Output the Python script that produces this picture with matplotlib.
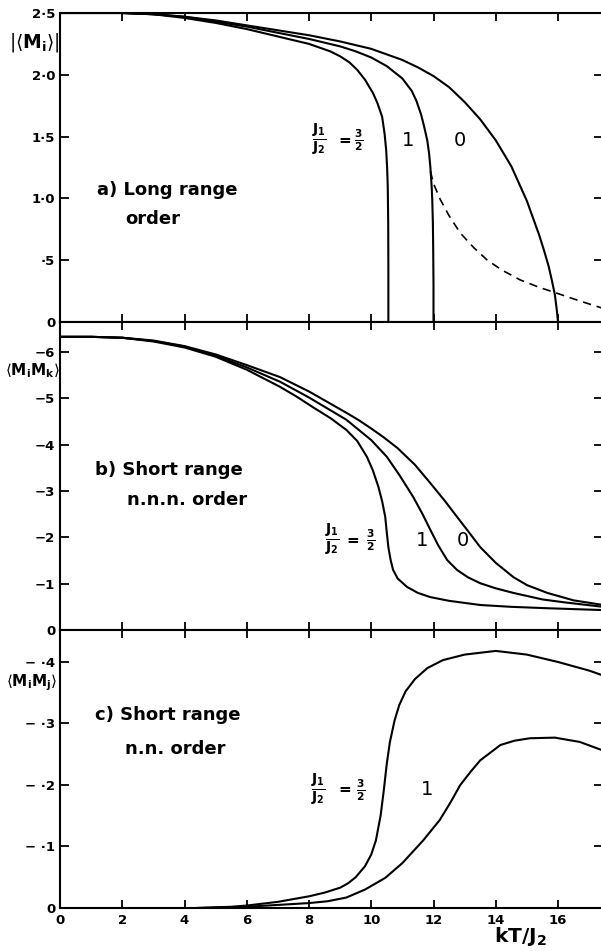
import matplotlib
matplotlib.use('Agg')
import matplotlib.pyplot as plt

plt.rcParams['mathtext.fontset'] = 'dejavusans'
plt.rcParams['font.family'] = ['DejaVu Sans']

# ---------------- data ----------------
# panel a: long range order |<M_i>| vs kT/J2
Ta_0 = [0, 2, 3, 4, 5, 6, 7, 8, 9, 10, 11, 11.5, 12, 12.5, 13, 13.5, 14, 14.5, 15, 15.4, 15.55, 15.7, 15.8, 15.9, 15.96, 16.0]
Ma_0 = [2.5, 2.5, 2.49, 2.47, 2.44, 2.40, 2.36, 2.32, 2.27, 2.21, 2.12, 2.06, 1.99, 1.90, 1.78, 1.64, 1.47, 1.26, 0.98, 0.70, 0.58, 0.45, 0.34, 0.22, 0.10, 0.0]
Ta_1 = [0, 2, 3, 4, 5, 6, 7, 8, 9, 9.5, 10, 10.5, 11, 11.3, 11.45, 11.6, 11.7, 11.8, 11.86, 11.9, 11.94, 11.96, 11.98, 11.99, 12.0, 12.0]
Ma_1 = [2.5, 2.5, 2.49, 2.47, 2.43, 2.39, 2.34, 2.29, 2.23, 2.19, 2.14, 2.07, 1.97, 1.87, 1.79, 1.68, 1.58, 1.47, 1.36, 1.25, 1.10, 0.99, 0.80, 0.60, 0.30, 0.0]
Ta_32 = [0, 2, 3, 4, 5, 6, 7, 8, 8.68, 9, 9.3, 9.55, 9.8, 10.06, 10.2, 10.35, 10.43, 10.48, 10.51, 10.53, 10.545, 10.55, 10.55]
Ma_32 = [2.5, 2.5, 2.49, 2.46, 2.42, 2.37, 2.31, 2.25, 2.19, 2.15, 2.10, 2.04, 1.96, 1.85, 1.77, 1.66, 1.52, 1.39, 1.25, 1.10, 0.80, 0.40, 0.0]
Ta_dash = [11.9, 12.0, 12.22, 12.5, 12.86, 13.3, 13.73, 14.2, 14.79, 15.4, 16.0, 16.7, 17.45]
Ma_dash = [1.22, 1.12, 0.99, 0.86, 0.72, 0.60, 0.50, 0.42, 0.34, 0.28, 0.23, 0.17, 0.11]

# panel b: short range n.n.n. order <M_i M_k>
Tb_0 = [0, 1, 2, 3, 4, 5, 6, 7.07, 8, 9.2, 9.6, 10, 10.4, 10.84, 11.4, 11.9, 12.35, 12.76, 13.15, 13.5, 14, 14.57, 15, 15.66, 16.5, 17.45]
Vb_0 = [-6.33, -6.33, -6.31, -6.25, -6.13, -5.95, -5.72, -5.46, -5.15, -4.69, -4.53, -4.35, -4.16, -3.93, -3.57, -3.17, -2.80, -2.44, -2.10, -1.79, -1.45, -1.14, -0.97, -0.80, -0.64, -0.54]
Tb_1 = [0, 1, 2, 3, 4, 5, 6, 7.07, 8, 9.2, 10, 10.5, 10.9, 11.35, 11.65, 11.9, 12.15, 12.44, 12.75, 13.1, 13.5, 14, 14.57, 15.5, 16.17, 17.45]
Vb_1 = [-6.33, -6.33, -6.31, -6.24, -6.12, -5.92, -5.67, -5.36, -5.02, -4.54, -4.10, -3.74, -3.35, -2.87, -2.50, -2.16, -1.83, -1.51, -1.30, -1.14, -1.01, -0.90, -0.80, -0.66, -0.60, -0.50]
Tb_32 = [0, 1, 2, 3, 4, 5, 6, 7.07, 7.6, 8.15, 8.7, 9.2, 9.55, 9.86, 10.05, 10.23, 10.35, 10.45, 10.5, 10.55, 10.62, 10.7, 10.85, 11.15, 11.5, 11.9, 12.5, 13.5, 14.5, 15.66, 17.45]
Vb_32 = [-6.33, -6.33, -6.31, -6.23, -6.10, -5.90, -5.62, -5.25, -5.04, -4.80, -4.57, -4.32, -4.08, -3.74, -3.45, -3.09, -2.78, -2.44, -2.10, -1.79, -1.52, -1.30, -1.11, -0.93, -0.80, -0.71, -0.63, -0.54, -0.50, -0.47, -0.43]

# panel c: short range n.n. order <M_i M_j>
Tc_32 = [4.4, 5.5, 6, 7, 8, 8.5, 9, 9.25, 9.5, 9.8, 10.0, 10.15, 10.3, 10.4, 10.5, 10.6, 10.75, 10.9, 11.1, 11.4, 11.8, 12.3, 13, 14, 15, 16, 17, 17.45]
Vc_32 = [0.0, -0.002, -0.004, -0.010, -0.019, -0.025, -0.033, -0.040, -0.050, -0.068, -0.087, -0.11, -0.15, -0.19, -0.235, -0.27, -0.305, -0.33, -0.352, -0.372, -0.390, -0.403, -0.412, -0.418, -0.412, -0.400, -0.386, -0.378]
Tc_1 = [4.4, 6, 7, 8, 8.6, 9.2, 9.8, 10.45, 11, 11.67, 12.2, 12.55, 12.86, 13.2, 13.5, 14.15, 14.6, 15.1, 15.9, 16.7, 17.45]
Vc_1 = [0.0, -0.002, -0.005, -0.008, -0.011, -0.017, -0.030, -0.049, -0.073, -0.11, -0.143, -0.172, -0.20, -0.222, -0.24, -0.265, -0.272, -0.276, -0.277, -0.270, -0.256]

x_ticks = [0, 2, 4, 6, 8, 10, 12, 14, 16]
x_ticklabels = ['0', '2', '4', '6', '8', '10', '12', '14', '16']
a_ticks = [0, 0.5, 1.0, 1.5, 2.0, 2.5]
a_ticklabels = ['0', '·5', '1·0', '1·5', '2·0', '2·5']
b_ticks = [0, -1, -2, -3, -4, -5, -6]
b_ticklabels = ['0', '−1', '−2', '−3', '−4', '−5', '−6']
c_ticks = [0, -0.1, -0.2, -0.3, -0.4]
c_ticklabels = ['0', '− ·1', '− ·2', '− ·3', '− ·4']

# ---------------- layout ----------------
W, H = 601, 951
fig = plt.figure(figsize=(W / 100, H / 100), dpi=100)

def rect(top, bottom, left=60, right=603):
    return [left / W, 1 - bottom / H, (right - left) / W, (bottom - top) / H]

axa = fig.add_axes(rect(13, 322))
axb = fig.add_axes(rect(322, 630))
axc = fig.add_axes(rect(630, 908))

XMAX = 543 / 31.125
LW = 1.5
line_kw = dict(color='black', lw=1.5, solid_joinstyle='round', solid_capstyle='round')
for ax in (axa, axb, axc):
    ax.set_xlim(0, XMAX)
    ax.set_xticks(x_ticks)
    for s in ('left', 'top', 'bottom'):
        ax.spines[s].set_linewidth(LW)
    ax.spines['right'].set_visible(False)
    ax.tick_params(axis='x', direction='in', top=True, bottom=True, length=5.5, width=1.3,
                   labelbottom=False)
    ax.tick_params(axis='y', direction='in', left=True, right=True, length=6.5, width=1.3,
                   labelsize=9.5, pad=3.5)

# panel a
axa.set_ylim(0, 2.5)
axa.set_yticks(a_ticks)
axa.set_yticklabels(a_ticklabels, fontweight='bold', fontsize=9.5)
axa.plot(Ta_0, Ma_0, **line_kw)
axa.plot(Ta_1, Ma_1, **line_kw)
axa.plot(Ta_32, Ma_32, **line_kw)
axa.plot(Ta_dash, Ma_dash, color='black', lw=1.2, ls=(0, (5, 3.5)))

# panel b
axb.set_ylim(0, -6.65)
axb.set_yticks(b_ticks)
axb.set_yticklabels(b_ticklabels, fontweight='bold', fontsize=9.5)
axb.plot(Tb_0, Vb_0, **line_kw)
axb.plot(Tb_1, Vb_1, **line_kw)
axb.plot(Tb_32, Vb_32, **line_kw)

# panel c
axc.set_ylim(0, -0.452)
axc.set_yticks(c_ticks)
axc.set_yticklabels(c_ticklabels, fontweight='bold', fontsize=9.5)
axc.plot(Tc_32, Vc_32, **line_kw)
axc.plot(Tc_1, Vc_1, **line_kw)
axc.tick_params(axis='x', labelbottom=True, labelsize=9.5, pad=4)
axc.set_xticklabels(x_ticklabels, fontweight='bold')

# ---------------- texts ----------------
tkw = dict(fontweight='bold', fontsize=13, va='center', ha='left')
axa.text(1.19, 1.07, 'a) Long range', **tkw)
axa.text(2.10, 0.83, 'order', **tkw)
axb.text(1.13, -3.46, 'b) Short range', **tkw)
axb.text(2.15, -2.81, 'n.n.n. order', **tkw)
axc.text(1.13, -0.314, 'c) Short range', **tkw)
axc.text(2.10, -0.259, 'n.n. order', **tkw)

frac = r'$\frac{\mathbf{J_1}}{\mathbf{J_2}}$'
half = r'$\frac{\mathbf{3}}{\mathbf{2}}$'
def curve_labels(ax, xf, y, xeq, xh, others):
    ax.text(xf, y, frac, fontsize=14, ha='center', va='center')
    ax.text(xeq, y, '=', fontsize=11, fontweight='bold', ha='center', va='center')
    ax.text(xh, y, half, fontsize=11, ha='center', va='center')
    for xo, s in others:
        ax.text(xo, y, s, fontsize=14, ha='center', va='center')

curve_labels(axa, 8.33, 1.47, 9.16, 9.6, [(11.19, '1'), (12.86, '0')])
curve_labels(axb, 8.75, -1.94, 9.39, 9.97, [(11.64, '1'), (12.93, '0')])
curve_labels(axc, 8.3, -0.192, 9.16, 9.65, [(11.8, '1')])

# axis labels (outside)
fig.text(34 / W, 1 - 42 / H, r'$|\langle \mathbf{M_i} \rangle|$', fontsize=13.5, ha='center', va='center')
fig.text(32 / W, 1 - 371 / H, r'$\langle \mathbf{M_i M_k} \rangle$', fontsize=11, ha='center', va='center')
fig.text(32 / W, 1 - 683 / H, r'$\langle \mathbf{M_i M_j} \rangle$', fontsize=11, ha='center', va='center')
fig.text(520 / W, 1 - 936 / H, r'$\mathbf{kT/J_2}$', fontsize=14.5, ha='center', va='center')

fig.savefig('out.png', dpi=100)
